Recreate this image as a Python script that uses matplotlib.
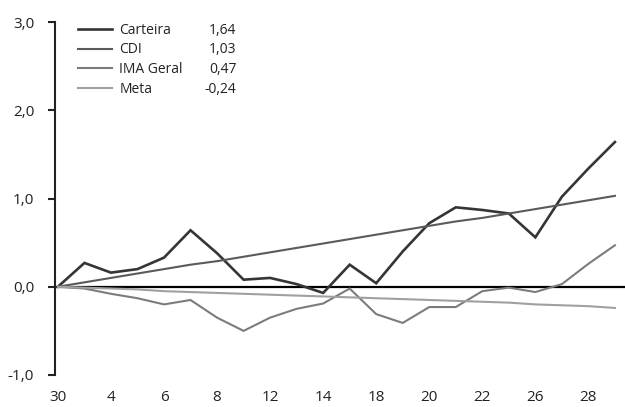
import matplotlib
matplotlib.use("Agg")
import matplotlib.pyplot as plt

days = ['30', '3', '4', '5', '6', '7', '8', '11', '12', '13', '14',
        '17', '18', '19', '20', '21', '22', '25', '26', '27', '28', '29']
carteira = [0.00, 0.27, 0.16, 0.20, 0.33, 0.64, 0.38, 0.08, 0.10, 0.03, -0.07,
            0.25, 0.04, 0.40, 0.72, 0.90, 0.87, 0.83, 0.56, 1.02, 1.34, 1.64]
cdi = [0.00, 0.05, 0.10, 0.15, 0.20, 0.25, 0.29, 0.34, 0.39, 0.44, 0.49,
       0.54, 0.59, 0.64, 0.69, 0.74, 0.78, 0.83, 0.88, 0.93, 0.98, 1.03]
ima = [0.00, -0.02, -0.08, -0.13, -0.20, -0.15, -0.35, -0.50, -0.35, -0.25, -0.19,
       -0.02, -0.31, -0.41, -0.23, -0.23, -0.05, -0.01, -0.06, 0.03, 0.26, 0.47]
meta = [0.00, -0.01, -0.02, -0.03, -0.05, -0.06, -0.07, -0.08, -0.09, -0.10, -0.11,
        -0.12, -0.13, -0.14, -0.15, -0.16, -0.17, -0.18, -0.20, -0.21, -0.22, -0.24]
names = ['Carteira', 'CDI', 'IMA Geral', 'Meta']
finals = ['1,64', '1,03', '0,47', '-0,24']
tick_idx = [0, 2, 4, 6, 8, 10, 12, 14, 16, 18, 20]
yticks = [-1.0, 0.0, 1.0, 2.0, 3.0]
ytick_labels = ['-1,0', '0,0', '1,0', '2,0', '3,0']

plt.rcParams['font.family'] = ['Open Sans', 'DejaVu Sans']

fig = plt.figure(figsize=(6.25, 4.07), dpi=100)
ax = fig.add_axes([55/625, 32/407, 570/625, 353/407])

x = list(range(len(days)))
ax.axhline(0, color='black', lw=1.6, zorder=1)
series = [carteira, cdi, ima, meta]
colors = ['#353535', '#5a5a5a', '#7c7c7c', '#a0a0a0']
widths = [1.9, 1.5, 1.5, 1.5]
handles = []
for s, c, w, n in zip(series, colors, widths, names):
    h, = ax.plot(x, s, color=c, lw=w, label=n, zorder=3, solid_joinstyle='miter')
    handles.append(h)

ax.set_xlim(-0.11, 21.38)
ax.set_ylim(-1.0, 3.0)
for sp in ['top', 'right', 'bottom']:
    ax.spines[sp].set_visible(False)
ax.spines['left'].set_color('#222222')
ax.spines['left'].set_linewidth(1.5)

ax.set_yticks(yticks)
ax.set_yticklabels(ytick_labels)
ax.set_xticks(tick_idx)
ax.set_xticklabels([days[i] for i in tick_idx])
ax.tick_params(axis='y', length=5, width=1.5, color='#222222', labelsize=11,
               labelcolor='#222222', pad=10)
ax.tick_params(axis='x', length=0, labelsize=11, labelcolor='#222222', pad=11)

leg = ax.legend(handles=handles, loc='upper left', bbox_to_anchor=(0.04, 0.998),
                frameon=False, fontsize=10, handlelength=2.45, handletextpad=0.55,
                labelspacing=0.34, borderpad=0, borderaxespad=0)
for t in leg.get_texts():
    t.set_color('#222222')

fig.canvas.draw()
inv = ax.transAxes.inverted()
for t, v in zip(leg.get_texts(), finals):
    bb = t.get_window_extent()
    yc = inv.transform(((bb.x0 + bb.x1) / 2, (bb.y0 + bb.y1) / 2))[1]
    ax.text(0.318, yc, v, transform=ax.transAxes, ha='right', va='center',
            fontsize=10, color='#222222')

fig.savefig('out.png', dpi=100)
